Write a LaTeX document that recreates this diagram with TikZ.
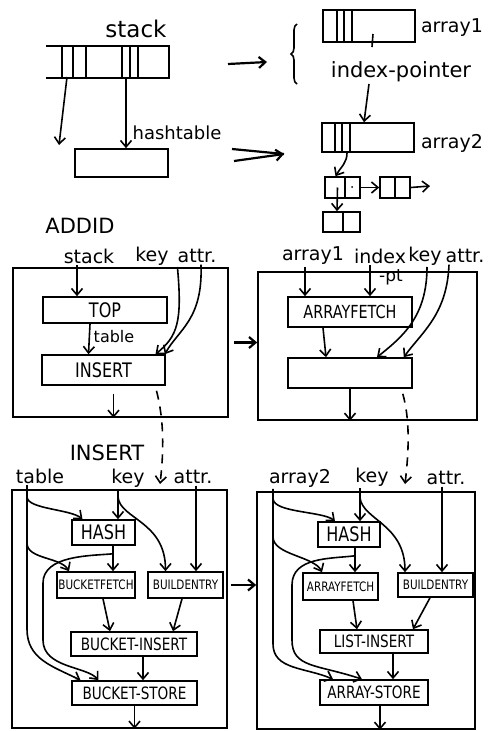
\documentclass[tikz,border=0pt]{standalone}
\usepackage{fontspec}
\setmainfont{DejaVu Sans}
\newfontfamily\boxfont[FakeStretch=0.8]{DejaVu Sans}
\usetikzlibrary{arrows.meta,decorations.pathreplacing}

\begin{document}
\begin{tikzpicture}[x=1pt,y=-1pt,>={Straight Barb[length=6.5pt,width=11pt]},
 line width=1.6pt,
 every node/.style={inner sep=1pt},
 lbl/.style={font=\fontsize{#1}{#1}\selectfont}, lbl/.default=19,
 ttl/.style={font=\fontsize{21}{21}\selectfont},
 box/.style={draw,inner sep=0pt,font=\boxfont\fontsize{#1}{#1}\selectfont}, box/.default=17,
 cell/.style={draw,inner sep=0pt},
 frame/.style={draw,inner sep=0pt},
 arr/.style={->},
 dsh/.style={->,dash pattern=on 9pt off 7pt}]
\useasboundingbox (0,0) rectangle (494,731);
% stack and hashtable
\node[lbl=23] (stacktop) at (136,29) {stack};
\node[minimum width=121,minimum height=30,inner sep=0] (stk) at (107.5,62) {};
\draw (stk.north west) -- (stk.north east) -- (stk.south east) -- (stk.south west);
\foreach \x in {62,73,86,122,130,138} \draw (\x,47) -- (\x,77);
\coordinate (stkA) at (67,77);
\coordinate (stkB) at (126,77);
\coordinate (stkfree) at (59,145);
\node[lbl=18] (htlbl) at (177,133) {hashtable};
\node[cell,minimum width=93,minimum height=28] (htab) at (121.5,163) {};
\draw[arr] (stkA) -- (stkfree);
\draw[arr] (stkB) -- (stkB |- htab.north);
% arrays, index-pointer and list
\coordinate (toA) at (228,64); \coordinate (toB) at (267,62);
\draw[arr,line width=2.2pt] (toA) -- (toB);
\draw[decorate,decoration={brace,amplitude=6pt}] (297,84) -- (297,24);
\node[cell,minimum width=92,minimum height=32] (arr1) at (369,26) {};
\foreach \x in {337,344,352} \draw (\x,10) -- (\x,42);
\draw (373,34) -- (372,47);
\node[lbl] (arr1lbl) at (452,28) {array1};
\node[lbl=21] (ipt) at (401,72) {index-pointer};
\node[cell,minimum width=92,minimum height=29] (arr2) at (368,137.5) {};
\foreach \x in {335,342,350} \draw (\x,123) -- (\x,152);
\node[lbl] (arr2lbl) at (452,143) {array2};
\draw[arr] ([xshift=-32pt]ipt.south) -- ([xshift=-4pt]arr2.north);
\coordinate (toC) at (232,149); \coordinate (toD) at (234,161); \coordinate (toE) at (284,154);
\draw[line width=2.2pt] (toC) -- (toE);
\draw[arr,line width=2.2pt] (toD) -- (toE);
\node[cell,minimum width=35,minimum height=21] (ln1) at (342.5,187.5) {};
\draw ([xshift=2.5pt]ln1.north) -- ([xshift=2.5pt]ln1.south);
\fill (352,187) circle (1pt);
\node[cell,minimum width=30,minimum height=21] (ln2) at (395,187.5) {};
\draw (ln2.north) -- (ln2.south);
\node[cell,minimum width=37,minimum height=20] (ln3) at (341.5,222) {};
\draw ([xshift=1.5pt]ln3.north) -- ([xshift=1.5pt]ln3.south);
\draw[arr] ([xshift=-21pt]arr2.south) .. controls +(0,10) and +(6,-10) .. ([xshift=-7pt]ln1.north);
\draw[arr] (ln1.east) -- (ln2.west);
\coordinate (lnfree) at (430,186);
\draw[arr] (ln2.east) -- (lnfree);
\draw[arr] ([xshift=-5pt]ln1.center) -- ([xshift=-4.5pt]ln3.north);
% ADDID
\node[ttl] (addid) at (80,226) {ADDID};
\node[frame,minimum width=215,minimum height=149] (addbox) at (120.5,342.5) {};
\node[lbl] (stk1) at (89,256) {stack};
\node[lbl] (key1) at (152,256) {key};
\node[lbl] (att1) at (197,256) {attr.};
\node[box=20,minimum width=124,minimum height=26] (top) at (105,310) {TOP};
\node[lbl=16] (tbl1) at (114,337) {table};
\node[box=20,minimum width=123,minimum height=30] (ins) at (103.5,370) {INSERT};
\draw[arr] ([xshift=-12pt]stk1.south) -- ([xshift=-28pt]top.north);
\draw[arr] ([xshift=-15pt]top.south) -- ([xshift=-15pt]ins.north);
\draw[arr] ([xshift=7pt]key1.south east) .. controls +(5,55) and +(22,-18) .. ([xshift=52pt]ins.north);
\draw[arr] ([xshift=4pt]att1.south) .. controls +(2,55) and +(14,-25) .. ([xshift=-1pt]ins.north east);
\coordinate (insout) at ([xshift=10pt]ins.south);
\draw[arr] ([yshift=-8pt]insout) -- (insout |- addbox.south);
\coordinate (d1s) at ([xshift=53pt,yshift=-5pt]ins.south);
\coordinate (d1e) at (160,484);
\draw[dsh] (d1s) .. controls (164,420) and (164,450) .. (d1e);
\coordinate (addout) at ([xshift=5pt]addbox.east);
% ADDID with array
\node[lbl] (a1) at (313,256) {array1};
\node[lbl] (idx) at (380,256) {index};
\node[lbl=17] (idxpt) at (391,277) {-pt};
\node[lbl] (key1b) at (425,256) {key};
\node[lbl] (att1b) at (465,256) {attr.};
\node[frame,minimum width=219,minimum height=148] (rbox1) at (367.5,346) {};
\node[box=18,minimum width=124,minimum height=30] (afet1) at (350,312) {ARRAYFETCH};
\node[box,minimum width=124,minimum height=30] (ins2) at (350,373) {};
\draw[arr,line width=2.2pt] (addout) -- (addout -| rbox1.west);
\draw[arr] ([xshift=-8pt]a1.south) -- ([xshift=-45pt]afet1.north);
\draw[arr] ([xshift=-10pt]idx.south) -- ([xshift=20pt]afet1.north);
\draw[arr] ([xshift=-27pt]afet1.south) -- ([xshift=-24pt]ins2.north);
\draw[arr] ([xshift=2pt]key1b.south) .. controls +(0,50) and +(25,-20) .. ([xshift=27pt]ins2.north);
\draw[arr] ([xshift=-16pt]att1b.south) .. controls +(-2,50) and +(18,-25) .. ([xshift=-9pt]ins2.north east);
\draw[arr] (ins2.south) -- (ins2.south |- rbox1.south);
\coordinate (d2s) at ([xshift=-10pt,yshift=-5pt]ins2.south east);
\coordinate (d2e) at (405,484);
\draw[dsh] (d2s) .. controls (410,420) and (409,450) .. (d2e);
% INSERT
\node[ttl] (insttl) at (107,453) {INSERT};
\node[lbl] (tbl2) at (40,476) {table};
\node[lbl] (key2) at (128,478) {key};
\node[lbl] (att2) at (193,477) {attr.};
\node[frame,minimum width=215,minimum height=238] (ibox) at (119.5,609) {};
\node[box=20,minimum width=63,minimum height=25] (hash1) at (103.5,532.5) {HASH};
\node[box=13,minimum width=78,minimum height=26] (bfet) at (96,585) {BUCKETFETCH};
\node[box=13,minimum width=75,minimum height=26] (bent1) at (185.5,585) {BUILDENTRY};
\node[box,minimum width=126,minimum height=24] (bins) at (134,644) {BUCKET-INSERT};
\node[box,minimum width=125,minimum height=24] (bsto) at (134.5,693) {BUCKET-STORE};
\coordinate (tab2) at ([xshift=-13pt]tbl2.south);
\draw[arr] (tab2) -- ++(0,144) .. controls +(0,30) and +(-28,-14) .. ([xshift=-54pt]bsto.north);
\draw[arr] ([yshift=-12pt]tab2) .. controls +(1,12) and +(-12,-10) .. ([xshift=-21pt]hash1.north);
\draw[arr] ([yshift=-58pt]tab2) .. controls +(0,16) and +(-8,-14) .. ([xshift=-27pt]bfet.north);
\coordinate (k2) at ([xshift=-10pt]key2.south);
\draw[arr] (k2) -- (k2 |- hash1.north);
\draw[arr] ([yshift=-8pt]k2) .. controls +(2,22) and +(0,-50) .. ([xshift=-20pt]bent1.north);
\coordinate (at2) at ([xshift=3pt]att2.south);
\draw[arr] (at2) -- (at2 |- bent1.north);
\coordinate (hb1) at ([xshift=9.5pt]hash1.south);
\draw[arr] (hb1) -- (hb1 |- bfet.north);
\draw[arr] ([yshift=-8pt]hb1) .. controls +(-22,2) and +(0,-28) .. (43,583) -- (43,640)
 .. controls +(0,28) and +(-12,-14) .. ([xshift=-36pt]bsto.north);
\draw[arr] ([xshift=7pt]bfet.south) -- ([xshift=-24pt]bins.north);
\draw[arr] ([xshift=-3.5pt]bent1.south) -- ([xshift=39pt]bins.north);
\coordinate (bi) at ([xshift=9pt]bins.south);
\draw[arr] (bi) -- (bi |- bsto.north);
\draw[arr] (bsto.south) -- (bsto.south |- ibox.south);
\coordinate (beout) at ([xshift=7pt]bent1.east);
% INSERT with array
\node[lbl] (a2) at (300,478) {array2};
\node[lbl] (key3) at (372,477) {key};
\node[lbl] (att3) at (446,478) {attr.};
\node[frame,minimum width=218,minimum height=237] (abox) at (366,610.5) {};
\node[box=20,minimum width=62,minimum height=25] (hash2) at (349,534.5) {HASH};
\node[box=13,minimum width=75,minimum height=27] (afet2) at (340.5,586.5) {ARRAYFETCH};
\node[box=13,minimum width=75,minimum height=24] (bent2) at (435.5,585) {BUILDENTRY};
\node[box,minimum width=108,minimum height=23] (lins) at (374,641.5) {LIST-INSERT};
\node[box,minimum width=108,minimum height=25] (asto) at (374,692.5) {ARRAY-STORE};
\draw[arr,line width=2.2pt] (beout) -- (beout -| abox.west);
\coordinate (ar2) at ([xshift=-27pt]a2.south);
\draw[arr] (ar2) -- ++(0,155) .. controls +(0,26) and +(-28,-12) .. ([xshift=-41pt]asto.north);
\draw[arr] ([yshift=-10pt]ar2) .. controls +(1,14) and +(-12,-10) .. ([xshift=-14pt]hash2.north);
\draw[arr] ([yshift=-48pt]ar2) .. controls +(0,18) and +(-8,-16) .. ([xshift=-18.5pt]afet2.north);
\coordinate (k3) at ([xshift=-12pt]key3.south);
\draw[arr] (k3) -- (k3 |- hash2.north);
\draw[arr] ([yshift=-10pt]k3) .. controls +(3,22) and +(0,-48) .. ([xshift=-30.5pt]bent2.north);
\coordinate (at3) at ([xshift=-4pt]att3.south);
\draw[arr] (at3) -- (at3 |- bent2.north);
\coordinate (hb2) at ([xshift=6pt]hash2.south);
\draw[arr] (hb2) -- (hb2 |- afet2.north);
\draw[arr] ([yshift=-8pt]hb2) .. controls +(-25,3) and +(0,-28) .. (292,585) -- (292,640)
 .. controls +(0,28) and +(-45,-15) .. ([xshift=-12pt]asto.north);
\draw[arr] ([xshift=12.5pt]afet2.south) -- ([xshift=-17pt]lins.north);
\draw[arr] ([xshift=-5.5pt]bent2.south) -- ([xshift=39pt]lins.north);
\coordinate (li) at ([xshift=19pt]lins.south);
\draw[arr] (li) -- (li |- asto.north);
\coordinate (ao) at ([xshift=6pt]asto.south);
\draw[arr] (ao) -- (ao |- abox.south);
\end{tikzpicture}
\end{document}
